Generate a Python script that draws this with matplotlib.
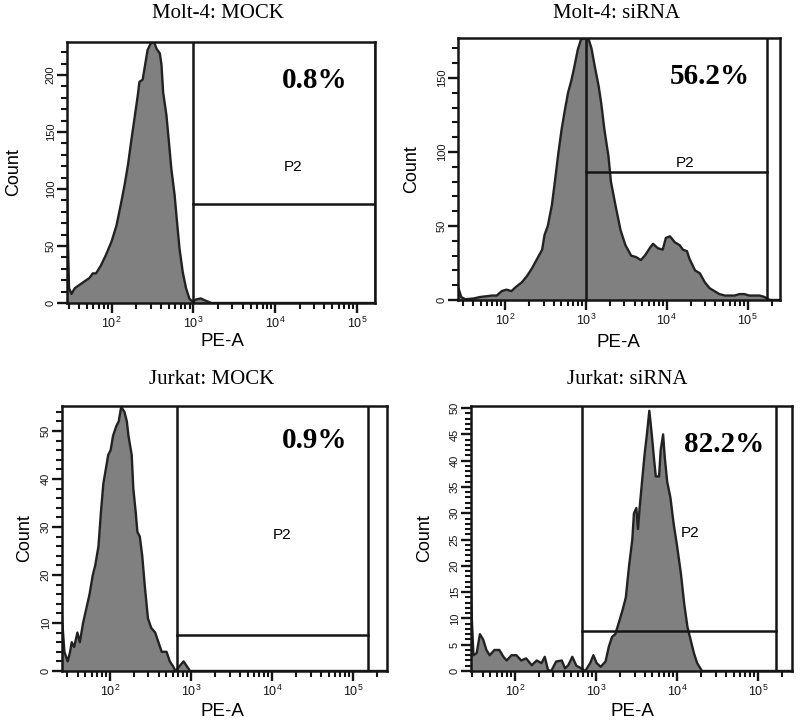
# -*- coding: utf-8 -*-
import numpy as np
import matplotlib
matplotlib.use("Agg")
import matplotlib.pyplot as plt
from matplotlib.ticker import LogLocator, MultipleLocator, NullFormatter

# histogram outlines: log10(PE-A) and count
m4_mock_log = [1.455, 1.465, 1.48, 1.51, 1.55, 1.61, 1.67, 1.73, 1.77, 1.81, 1.87, 1.93,
               2.00, 2.06, 2.12, 2.16, 2.20, 2.24, 2.28, 2.32, 2.34, 2.38, 2.41, 2.44,
               2.48, 2.52, 2.55, 2.59, 2.61, 2.63, 2.67, 2.70, 2.73, 2.77, 2.80, 2.83,
               2.87, 2.91, 2.95, 2.99, 3.03, 3.09, 3.15, 3.22, 5.22]
m4_mock_cnt = [106, 60, 13, 8, 13, 16, 19, 22, 26, 26, 33, 42,
               54, 68, 89, 104, 121, 142, 162, 182, 194, 196, 209, 222,
               228, 229, 223, 219, 209, 185, 165, 142, 118, 95, 71, 48,
               27, 13, 4, 1, 3, 4, 2, 0, 0]

m4_sirna_log = [1.42, 1.46, 1.51, 1.61, 1.69, 1.84, 1.90, 1.96, 2.02, 2.08, 2.14, 2.21,
                2.27, 2.33, 2.39, 2.46, 2.49, 2.53, 2.58, 2.62, 2.66, 2.70, 2.74, 2.78,
                2.82, 2.86, 2.90, 2.94, 2.99, 3.03, 3.07, 3.11, 3.16, 3.19, 3.23, 3.28,
                3.31, 3.37, 3.43, 3.49, 3.56, 3.62, 3.68, 3.73, 3.79, 3.83, 3.89, 3.95,
                3.99, 4.04, 4.10, 4.16, 4.20, 4.25, 4.28, 4.35, 4.41, 4.47, 4.53, 4.59,
                4.65, 4.72, 4.78, 4.84, 4.90, 4.96, 5.02, 5.09, 5.15, 5.21, 5.25, 5.29, 5.40]
m4_sirna_cnt = [9, 2, 0.5, 1, 2, 3, 3, 6, 7, 6, 9, 12,
                16, 21, 27, 34, 44, 50, 64, 81, 99, 115, 128, 140,
                148, 158, 169, 176, 177, 177, 170, 158, 144, 133, 115, 97,
                80, 63, 47, 37, 30, 29, 27, 30, 35, 38, 35, 34,
                42, 43, 39, 37, 34, 33, 28, 20, 18, 12, 8, 6,
                4, 3, 3, 3, 4, 4, 3, 3, 3, 2, 0.5, 0, 0]

jk_mock_log = [1.41, 1.44, 1.48, 1.51, 1.53, 1.56, 1.60, 1.63, 1.67, 1.71, 1.75, 1.79,
               1.82, 1.86, 1.89, 1.92, 1.95, 1.98, 2.01, 2.04, 2.08, 2.11, 2.14, 2.18,
               2.21, 2.23, 2.27, 2.29, 2.32, 2.34, 2.37, 2.40, 2.43, 2.47, 2.51, 2.56,
               2.60, 2.64, 2.70, 2.74, 2.78, 2.81, 2.86, 2.91, 2.95, 2.99, 5.42]
jk_mock_cnt = [11, 4, 2, 4, 6, 5, 8, 6, 10, 13, 16, 20,
               22, 26, 33, 39, 42, 45, 46, 49, 51, 52, 55, 54,
               52, 49, 45, 38, 33, 29, 28, 24, 18, 11, 9, 8,
               6, 4, 4, 2, 1, 0, 1, 2, 1, 0, 0]

jk_sirna_log = [1.46, 1.47, 1.49, 1.53, 1.57, 1.61, 1.65, 1.69, 1.75, 1.81, 1.86, 1.90,
                1.96, 2.02, 2.08, 2.14, 2.21, 2.27, 2.33, 2.37, 2.41, 2.45, 2.51, 2.58,
                2.62, 2.66, 2.71, 2.76, 2.82, 2.87, 2.93, 2.97, 3.01, 3.06, 3.12, 3.16,
                3.20, 3.24, 3.28, 3.33, 3.37, 3.41, 3.45, 3.47, 3.50, 3.52, 3.54, 3.57,
                3.60, 3.63, 3.66, 3.69, 3.72, 3.74, 3.78, 3.80, 3.83, 3.85, 3.88, 3.92,
                3.96, 4.00, 4.05, 4.09, 4.13, 4.17, 4.21, 4.25, 4.31, 5.42]
jk_sirna_cnt = [17, 10, 3, 3.4, 7, 6, 4, 3, 4, 4, 2.7, 2,
                3, 3, 2, 2.4, 1.1, 2, 1.5, 2.7, 0.2, 0, 1.8, 2,
                0.5, 1.1, 2.7, 1, 0.5, 0, 1.5, 3, 1.5, 0.8, 1.8, 4.6,
                6.5, 7, 9, 11.6, 14, 20, 25, 30, 31, 27, 31, 36,
                41, 45, 49.5, 45, 40, 37, 37, 42, 45, 40.7, 36, 33,
                28, 24, 18.5, 12.8, 8.4, 5.9, 3.4, 1.5, 0, 0]

titles = ["Molt-4: MOCK", "Molt-4: siRNA", "Jurkat: MOCK", "Jurkat: siRNA"]
percents = ["0.8%", "56.2%", "0.9%", "82.2%"]
# gate P2: left/right edge (log10) and height (count)
gate_left = [3.0, 3.0, 2.83, 2.83]
gate_right = [5.22, 5.235, 5.18, 5.22]
gate_height = [87, 86.5, 7.5, 7.6]

W, H = 800, 726
fig = plt.figure(figsize=(8, 7.26), dpi=100)

SANS = "Liberation Sans"
SERIF = "Liberation Serif"
INK = "#151515"

# pixel boxes: left, right, top, bottom
boxes = [(67, 375, 42, 303), (458, 780, 38, 300), (62, 387, 406, 671), (471, 792, 406, 671)]
xlims = [(1.455, 5.22), (1.42, 5.40), (1.41, 5.42), (1.46, 5.42)]
ylims = [229, 177, 55.2, 50.4]
ymajor = [50, 50, 10, 5]
yminor = [10, 10, 2, 1]
p2_pos = [(4.22, 119, "center"), (4.23, 88, "bottom"), (4.12, 28.3, "center"), (4.16, 26.2, "center")]
title_px = [(218, 14), (617, 14), (212, 380), (627, 380)]
pct_px = [(315, 80), (710, 77), (315, 441), (724, 445)]
count_px = [14, 412, 25, 425]
pea_px = [(222, 342), (618, 343), (222, 711), (632, 711)]

data = [(m4_mock_log, m4_mock_cnt), (m4_sirna_log, m4_sirna_cnt),
        (jk_mock_log, jk_mock_cnt), (jk_sirna_log, jk_sirna_cnt)]

for i in range(4):
    l, r, t, b = boxes[i]
    ax = fig.add_axes([l / W, 1 - b / H, (r - l) / W, (b - t) / H])
    xs = 10 ** np.array(data[i][0])
    ys = np.array(data[i][1])
    ax.fill_between(xs, 0, ys, color="#808080", lw=0)
    ax.plot(xs, ys, color="#222222", lw=1.7)
    ax.set_xscale("log")
    ax.set_xlim(10 ** xlims[i][0], 10 ** xlims[i][1])
    ax.set_ylim(0, ylims[i])

    # gate P2
    gl, gr, gh = 10 ** gate_left[i], 10 ** gate_right[i], gate_height[i]
    ax.axvline(gl, color=INK, lw=1.8)
    ax.axvline(gr, color=INK, lw=1.8)
    ax.plot([gl, gr], [gh, gh], color=INK, lw=1.8)
    px, py, va = p2_pos[i]
    ax.text(10 ** px, py, "P2", ha="center", va=va, fontsize=11, family=SANS)

    for s in ax.spines.values():
        s.set_linewidth(1.8)
        s.set_color(INK)

    ax.xaxis.set_major_locator(LogLocator(base=10, numticks=10))
    ax.xaxis.set_minor_locator(LogLocator(base=10, subs=np.arange(2, 10), numticks=20))
    ax.xaxis.set_minor_formatter(NullFormatter())
    ax.yaxis.set_major_locator(MultipleLocator(ymajor[i]))
    ax.yaxis.set_minor_locator(MultipleLocator(yminor[i]))
    ax.tick_params(axis="both", which="major", direction="out", length=7, width=1.7,
                   colors=INK, labelsize=9, pad=2)
    ax.tick_params(axis="both", which="minor", direction="out", length=4.5, width=1.5,
                   colors=INK)
    ax.tick_params(axis="y", labelsize=8, labelrotation=90, pad=1)
    for lab in ax.get_yticklabels():
        lab.set_va("center")
        lab.set_family(SANS)
    for lab in ax.get_xticklabels():
        lab.set_family(SANS)

    # texts in pixel positions
    tx, ty = title_px[i]
    fig.text(tx / W, 1 - ty / H, titles[i], ha="center", va="center", fontsize=15, family=SERIF)
    qx, qy = pct_px[i]
    fig.text(qx / W, 1 - qy / H, percents[i], ha="center", va="center", fontsize=21,
             family=SERIF, weight="bold")
    fig.text(count_px[i] / W, 1 - ((t + b) / 2) / H, "Count", ha="center", va="center",
             rotation=90, fontsize=13, family=SANS)
    ex, ey = pea_px[i]
    fig.text(ex / W, 1 - ey / H, "PE-A", ha="center", va="center", fontsize=13.5, family=SANS)

fig.savefig("out.png", dpi=100)
